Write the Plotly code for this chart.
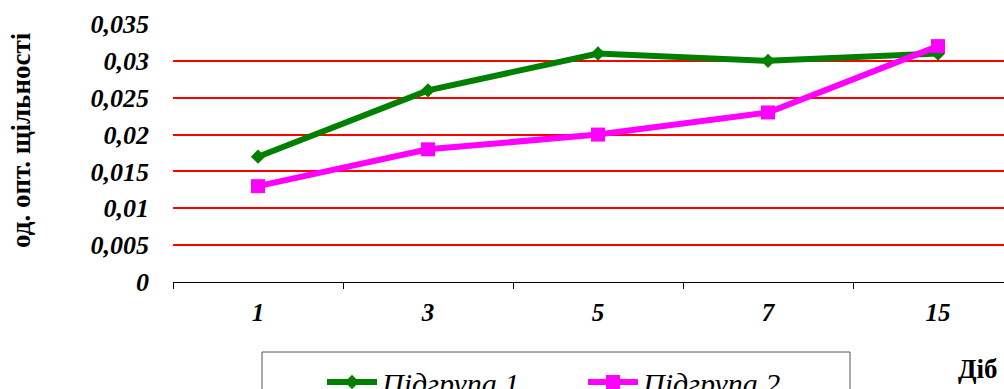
import plotly.graph_objects as go

days = ["1", "3", "5", "7", "15"]
group1 = [0.017, 0.026, 0.031, 0.030, 0.031]
group2 = [0.013, 0.018, 0.020, 0.023, 0.032]
y_tick_vals = [0, 0.005, 0.01, 0.015, 0.02, 0.025, 0.03, 0.035]
y_tick_text = ["0", "0,005", "0,01", "0,015", "0,02", "0,025", "0,03", "0,035"]
series_names = ["Підгрупа 1", "Підгрупа 2"]
y_title = "од. опт. щільності"
x_title = "Діб"

W, H = 1004, 389
L, T, B = 173, 24, 107
PW = W - L
PH = H - T - B
BOTTOM = T + PH


def px_x(p):
    return (p - L) / PW


def px_y(p):
    return (BOTTOM - p) / PH


fig = go.Figure()
fig.add_trace(go.Scatter(
    x=days, y=group1, name=series_names[0], mode="lines+markers",
    line=dict(color="#008000", width=6),
    marker=dict(symbol="diamond", size=11, color="#008000"),
))
fig.add_trace(go.Scatter(
    x=days, y=group2, name=series_names[1], mode="lines+markers",
    line=dict(color="#FF00FF", width=6),
    marker=dict(symbol="square", size=14, color="#FF00FF"),
))

font_family = "'Liberation Serif', 'Times New Roman', serif"

fig.update_layout(
    width=W, height=H,
    margin=dict(l=L, r=0, t=T, b=B, pad=0, autoexpand=False),
    paper_bgcolor="white", plot_bgcolor="white",
    font=dict(family=font_family, color="black"),
    showlegend=True,
    legend=dict(
        orientation="h",
        x=px_x(322), xanchor="left",
        y=px_y(356), yanchor="top",
        borderwidth=0,
        bgcolor="rgba(0,0,0,0)",
        font=dict(family=font_family, size=30, style="italic"),
        itemwidth=50,
        entrywidth=196,
        entrywidthmode="pixels",
    ),
    xaxis=dict(
        type="category",
        range=[-0.5, 4.5 - 19 / 170],
        showgrid=False, zeroline=False,
        showline=True, linecolor="black", linewidth=1,
        ticks="outside", tickson="boundaries", ticklen=6, tickcolor="black",
        tickfont=dict(family=font_family, size=25, weight="bold", style="italic"),
        ticklabelstandoff=8,
    ),
    yaxis=dict(
        range=[0, 0.035],
        tickvals=y_tick_vals, ticktext=y_tick_text,
        showgrid=True, gridcolor="#FF0000", gridwidth=2,
        zeroline=False, showline=False, ticks="",
        tickfont=dict(family=font_family, size=26, weight="bold", style="italic"),
        ticklabelstandoff=23,
    ),
    shapes=[
        dict(
            type="rect", xref="paper", yref="paper",
            x0=px_x(262), x1=px_x(850), y0=px_y(352), y1=px_y(420),
            line=dict(color="#555555", width=1), fillcolor="rgba(0,0,0,0)",
            layer="below",
        ),
    ],
    annotations=[
        dict(
            text=y_title, textangle=-90,
            xref="paper", yref="paper",
            x=px_x(21), y=px_y(140),
            xanchor="center", yanchor="middle", showarrow=False,
            font=dict(family=font_family, size=27, weight="bold"),
        ),
        dict(
            text=x_title,
            xref="paper", yref="paper",
            x=px_x(978), y=px_y(369),
            xanchor="center", yanchor="middle", showarrow=False,
            font=dict(family=font_family, size=27, weight="bold"),
        ),
    ],
)

fig.write_html("out.html")
